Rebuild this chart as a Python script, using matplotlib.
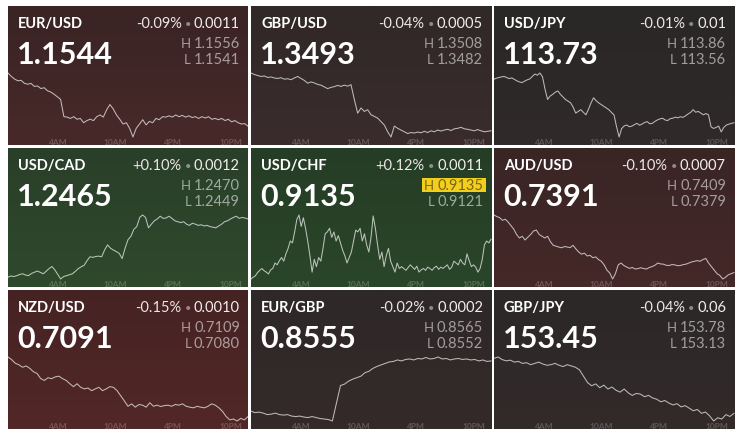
import numpy as np
import matplotlib
matplotlib.use("Agg")
import matplotlib.pyplot as plt
from matplotlib.colors import to_rgb
from matplotlib.patches import Rectangle

# ---------------- data ----------------
pairs = ["EUR/USD", "GBP/USD", "USD/JPY",
         "USD/CAD", "USD/CHF", "AUD/USD",
         "NZD/USD", "EUR/GBP", "GBP/JPY"]
last_prices = ["1.1544", "1.3493", "113.73",
               "1.2465", "0.9135", "0.7391",
               "0.7091", "0.8555", "153.45"]
pct_changes = ["-0.09%", "-0.04%", "-0.01%",
               "+0.10%", "+0.12%", "-0.10%",
               "-0.15%", "-0.02%", "-0.04%"]
abs_changes = ["0.0011", "0.0005", "0.01",
               "0.0012", "0.0011", "0.0007",
               "0.0010", "0.0002", "0.06"]
highs = ["1.1556", "1.3508", "113.86",
         "1.2470", "0.9135", "0.7409",
         "0.7109", "0.8565", "153.78"]
lows = ["1.1541", "1.3482", "113.56",
        "1.2449", "0.9121", "0.7379",
        "0.7080", "0.8552", "153.13"]
high_is_new = [False, False, False, False, True, False, False, False, False]

tick_hours = [4, 10, 16, 22]
tick_labels = ["4AM", "10AM", "4PM", "10PM"]
hour_start, hour_end = -1.2, 23.8

eurusd = [1.15558, 1.15550, 1.15544, 1.15540, 1.15541, 1.15534, 1.15532, 1.15534, 1.15527, 1.15528,
          1.15522, 1.15524, 1.15517, 1.15514, 1.15509, 1.15503, 1.15497, 1.15457, 1.15456, 1.15453,
          1.15457, 1.15451, 1.15453, 1.15443, 1.15448, 1.15451, 1.15448, 1.15457, 1.15461, 1.15456,
          1.15473, 1.15485, 1.15475, 1.15461, 1.15451, 1.15440, 1.15443, 1.15430, 1.15410, 1.15430,
          1.15440, 1.15450, 1.15438, 1.15446, 1.15443, 1.15453, 1.15450, 1.15457, 1.15456, 1.15459,
          1.15456, 1.15461, 1.15457, 1.15460, 1.15456, 1.15459, 1.15455, 1.15457, 1.15453, 1.15457,
          1.15454, 1.15457, 1.15451, 1.15453, 1.15450, 1.15453, 1.15448, 1.15451, 1.15445, 1.15448,
          1.15443, 1.15440, 1.15441, 1.15435]

gbpusd = [1.35080, 1.35074, 1.35070, 1.35066, 1.35068, 1.35062, 1.35064, 1.35060, 1.35058, 1.35061,
          1.35055, 1.35057, 1.35053, 1.35060, 1.35066, 1.35058, 1.35050, 1.35039, 1.35044, 1.35040,
          1.35034, 1.35031, 1.35024, 1.35017, 1.35022, 1.35025, 1.35030, 1.35026, 1.35031, 1.35027,
          1.35033, 1.34973, 1.34918, 1.34939, 1.34925, 1.34932, 1.34912, 1.34905, 1.34898, 1.34884,
          1.34870, 1.34843, 1.34822, 1.34866, 1.34857, 1.34850, 1.34843, 1.34836, 1.34840, 1.34838,
          1.34842, 1.34839, 1.34845, 1.34840, 1.34847, 1.34843, 1.34850, 1.34846, 1.34850, 1.34853,
          1.34848, 1.34855, 1.34857, 1.34861, 1.34855, 1.34853, 1.34850, 1.34847, 1.34852, 1.34847,
          1.34843, 1.34845, 1.34847]

usdjpy = [113.831, 113.836, 113.839, 113.842, 113.844, 113.838, 113.834, 113.837, 113.830, 113.823,
          113.818, 113.815, 113.822, 113.828, 113.832, 113.844, 113.855, 113.850, 113.860, 113.842,
          113.783, 113.736, 113.752, 113.760, 113.770, 113.776, 113.760, 113.748, 113.736, 113.728,
          113.720, 113.700, 113.672, 113.680, 113.688, 113.676, 113.664, 113.690, 113.720, 113.744,
          113.730, 113.720, 113.712, 113.704, 113.696, 113.688, 113.675, 113.664, 113.608, 113.560,
          113.600, 113.612, 113.616, 113.608, 113.611, 113.618, 113.624, 113.615, 113.621, 113.628,
          113.632, 113.622, 113.624, 113.633, 113.640, 113.645, 113.648, 113.640, 113.637, 113.646,
          113.648, 113.653, 113.650, 113.655, 113.652, 113.659, 113.668, 113.675, 113.688, 113.676,
          113.680, 113.672, 113.664, 113.670, 113.664, 113.608, 113.600, 113.605, 113.611, 113.584,
          113.605, 113.616, 113.620, 113.624, 113.627]

usdcad = [1.24496, 1.24500, 1.24498, 1.24501, 1.24505, 1.24507, 1.24503, 1.24501, 1.24508, 1.24512,
          1.24516, 1.24512, 1.24507, 1.24515, 1.24524, 1.24531, 1.24520, 1.24505, 1.24490, 1.24498,
          1.24501, 1.24504, 1.24507, 1.24515, 1.24524, 1.24530, 1.24535, 1.24550, 1.24563, 1.24561,
          1.24564, 1.24565, 1.24563, 1.24585, 1.24602, 1.24591, 1.24585, 1.24580, 1.24574, 1.24557,
          1.24591, 1.24619, 1.24630, 1.24653, 1.24662, 1.24692, 1.24700, 1.24692, 1.24658, 1.24670,
          1.24681, 1.24687, 1.24696, 1.24689, 1.24690, 1.24696, 1.24689, 1.24681, 1.24678, 1.24675,
          1.24678, 1.24670, 1.24666, 1.24673, 1.24670, 1.24666, 1.24668, 1.24664, 1.24666, 1.24662,
          1.24660, 1.24658, 1.24664, 1.24670, 1.24678, 1.24681, 1.24687, 1.24692, 1.24696, 1.24689,
          1.24692, 1.24690, 1.24687]

usdchf = [0.91210, 0.91214, 0.91217, 0.91224, 0.91229, 0.91233, 0.91228, 0.91225, 0.91221, 0.91230,
          0.91233, 0.91245, 0.91241, 0.91250, 0.91257, 0.91249, 0.91265, 0.91277,
          0.91293, 0.91289, 0.91313, 0.91340, 0.91350, 0.91325, 0.91344, 0.91321, 0.91293, 0.91261,
          0.91225, 0.91253, 0.91237, 0.91257, 0.91249, 0.91277, 0.91309, 0.91313, 0.91321, 0.91301,
          0.91313, 0.91293, 0.91305, 0.91289, 0.91273, 0.91261, 0.91245, 0.91257, 0.91269, 0.91293,
          0.91317, 0.91313, 0.91321, 0.91293, 0.91309, 0.91285, 0.91269, 0.91301, 0.91348, 0.91321,
          0.91285, 0.91253, 0.91269, 0.91237, 0.91261, 0.91277, 0.91249, 0.91237, 0.91225, 0.91245,
          0.91233, 0.91237, 0.91233,
          0.91229, 0.91235, 0.91241, 0.91236, 0.91231, 0.91238, 0.91225, 0.91230, 0.91233, 0.91229,
          0.91236, 0.91233, 0.91229, 0.91235, 0.91238, 0.91231, 0.91236, 0.91233, 0.91237, 0.91241,
          0.91231, 0.91236, 0.91249, 0.91245, 0.91241, 0.91253, 0.91245, 0.91241, 0.91265, 0.91250,
          0.91237, 0.91241, 0.91236, 0.91225, 0.91233, 0.91253, 0.91285, 0.91293, 0.91289, 0.91297]

audusd = [0.74087, 0.74080, 0.74075, 0.74063, 0.74068, 0.74055, 0.74039, 0.74023, 0.73999, 0.73983,
          0.73991, 0.73974, 0.73987, 0.73999, 0.74015, 0.74019, 0.73999, 0.73991, 0.73983, 0.73991,
          0.73966, 0.73950, 0.73946, 0.73942, 0.73939, 0.73945, 0.73942, 0.73940, 0.73950, 0.73934,
          0.73920, 0.73910, 0.73915, 0.73902, 0.73905, 0.73894, 0.73898, 0.73886, 0.73878, 0.73862,
          0.73838, 0.73825, 0.73798, 0.73822, 0.73862, 0.73870, 0.73859, 0.73852, 0.73846, 0.73850,
          0.73843, 0.73845, 0.73849, 0.73845, 0.73843, 0.73850, 0.73854, 0.73860, 0.73870, 0.73866,
          0.73865, 0.73860, 0.73859, 0.73863, 0.73862, 0.73858, 0.73859, 0.73863, 0.73865, 0.73870,
          0.73875, 0.73878, 0.73881, 0.73878, 0.73886, 0.73891, 0.73870, 0.73854, 0.73838, 0.73822,
          0.73814, 0.73798, 0.73806, 0.73817, 0.73822, 0.73827]

nzdusd = [0.71090, 0.71078, 0.71062, 0.71055, 0.71044, 0.71050, 0.71039, 0.71024, 0.71016, 0.70993,
          0.70985, 0.70997, 0.70993, 0.71001, 0.71004, 0.70993, 0.70985, 0.70970, 0.70957, 0.70970,
          0.70954, 0.70947, 0.70951, 0.70939, 0.70947, 0.70954, 0.70939, 0.70947, 0.70957, 0.70954,
          0.70939, 0.70916, 0.70893, 0.70869, 0.70880, 0.70865, 0.70877, 0.70874, 0.70865, 0.70885,
          0.70869, 0.70874, 0.70868, 0.70872, 0.70874, 0.70869, 0.70877, 0.70874, 0.70880, 0.70869,
          0.70865, 0.70862, 0.70869, 0.70865, 0.70862, 0.70869, 0.70880, 0.70874, 0.70862, 0.70846,
          0.70823, 0.70808, 0.70812, 0.70803, 0.70815, 0.70808, 0.70823]

eurgbp = [0.85540, 0.85537, 0.85538, 0.85536, 0.85533, 0.85534, 0.85536, 0.85533, 0.85532, 0.85533,
          0.85530, 0.85529, 0.85530, 0.85528, 0.85527, 0.85529, 0.85527, 0.85525, 0.85524, 0.85523,
          0.85520, 0.85556, 0.85592, 0.85595, 0.85601, 0.85605, 0.85608, 0.85611, 0.85618, 0.85621,
          0.85627, 0.85631, 0.85634, 0.85637, 0.85640, 0.85641, 0.85644, 0.85642, 0.85645, 0.85646,
          0.85644, 0.85647, 0.85646, 0.85649, 0.85646, 0.85647, 0.85650, 0.85646, 0.85647, 0.85644,
          0.85646, 0.85647, 0.85645, 0.85646, 0.85644, 0.85645, 0.85642, 0.85644, 0.85641, 0.85642]

gbpjpy = [153.767, 153.780, 153.754, 153.741, 153.748, 153.728, 153.735, 153.715, 153.722, 153.702,
          153.715, 153.728, 153.709, 153.696, 153.702, 153.715, 153.696, 153.683, 153.702, 153.689,
          153.676, 153.650, 153.585, 153.520, 153.488, 153.507, 153.468, 153.494, 153.455, 153.475,
          153.442, 153.423, 153.455, 153.416, 153.390, 153.410, 153.403, 153.377, 153.390, 153.364,
          153.351, 153.325, 153.338, 153.312, 153.293, 153.306, 153.273, 153.286, 153.260, 153.234,
          153.247, 153.208, 153.221, 153.182, 153.130, 153.163, 153.150, 153.195, 153.176, 153.208]

series = [eurusd, gbpusd, usdjpy, usdcad, usdchf, audusd, nzdusd, eurgbp, gbpjpy]

# tile background colours (top, bottom)
tile_colors = [("#3a2424", "#482929"), ("#312828", "#3a2c2c"), ("#2a2727", "#302a2a"),
               ("#2a3f29", "#2f492d"), ("#253d25", "#2a462a"), ("#3a2525", "#452828"),
               ("#462323", "#522727"), ("#2e2828", "#352a2a"), ("#2c2828", "#332a2a")]

# ---------------- layout ----------------
W, H = 740, 434
col_x = [8, 251, 494]
row_y = [6, 148, 290]
tw, th = 240, 139
band_top, band_bot = 67, 131

plt.rcParams['font.family'] = ['Lato', 'DejaVu Sans']
fig = plt.figure(figsize=(W / 100, H / 100), dpi=100)
fig.patch.set_facecolor("white")
renderer = fig.canvas.get_renderer()


def fig_rect(x, y, w, h):
    return [x / W, 1 - (y + h) / H, w / W, h / H]


def width_px(t):
    return t.get_window_extent(renderer).width


for i in range(9):
    r, c = divmod(i, 3)
    x0, y0 = col_x[c], row_y[r]
    ax = fig.add_axes(fig_rect(x0, y0, tw, th))
    ax.set_xlim(0, tw)
    ax.set_ylim(th, 0)
    ax.axis("off")
    top, bot = np.array(to_rgb(tile_colors[i][0])), np.array(to_rgb(tile_colors[i][1]))
    t = np.linspace(0, 1, 64)[:, None, None]
    grad = top[None, None, :] * (1 - t) + bot[None, None, :] * t
    ax.imshow(grad, extent=(0, tw, th, 0), aspect="auto", interpolation="bilinear", zorder=0)

    # header
    ax.text(10, 22, pairs[i], fontsize=10.5, fontweight="bold", color="white", va="baseline", ha="left")
    xr = 232
    t1 = ax.text(xr, 22, abs_changes[i], fontsize=10.5, color="#f2eeee", va="baseline", ha="right")
    xr -= width_px(t1) + 3
    t2 = ax.text(xr, 21.5, "•", fontsize=8, color=(1, 1, 1, 0.45), va="baseline", ha="right")
    xr -= width_px(t2) + 3
    ax.text(xr, 22, pct_changes[i], fontsize=10.5, color="#ece6e6", va="baseline", ha="right")

    # big price
    ax.text(9, 58.5, last_prices[i], fontsize=22, fontweight="bold", color="white", va="baseline", ha="left")

    # high / low
    for lbl, val, yb, hl in [("H", highs[i], 42.3, high_is_new[i]), ("L", lows[i], 58.3, False)]:
        col = "#7a6514" if hl else (1, 1, 1, 0.55)
        tv = ax.text(232, yb, val, fontsize=10.5, color=col, va="baseline", ha="right", zorder=3)
        wv = width_px(tv)
        tl = ax.text(232 - wv - 3, yb, lbl, fontsize=9.5, color=col, va="baseline", ha="right", zorder=3)
        if hl:
            wl = width_px(tl)
            left = 232 - wv - 3 - wl - 2
            ax.add_patch(Rectangle((left, yb - 12.3), 235 - left, 14.2, facecolor="#f2cf1d",
                                   edgecolor="none", zorder=2))

    # sparkline
    lax = fig.add_axes(fig_rect(x0, y0 + band_top, tw, band_bot - band_top))
    lax.set_facecolor("none")
    vals = np.array(series[i])
    hrs = np.linspace(hour_start, hour_end, len(vals))
    lax.plot(hrs, vals, color=(1, 1, 1, 0.68), lw=0.75, clip_on=False)
    lax.set_xlim(hour_start, hour_end)
    lax.set_ylim(vals.min(), vals.max())
    for s in lax.spines.values():
        s.set_visible(False)
    lax.set_yticks([])
    lax.set_xticks(tick_hours)
    lax.set_xticklabels(tick_labels, fontsize=6, fontweight="bold")
    lax.tick_params(axis="x", length=0, pad=1.2, labelcolor=(1, 1, 1, 0.22))

fig.savefig("out.png", dpi=100, facecolor="white")
